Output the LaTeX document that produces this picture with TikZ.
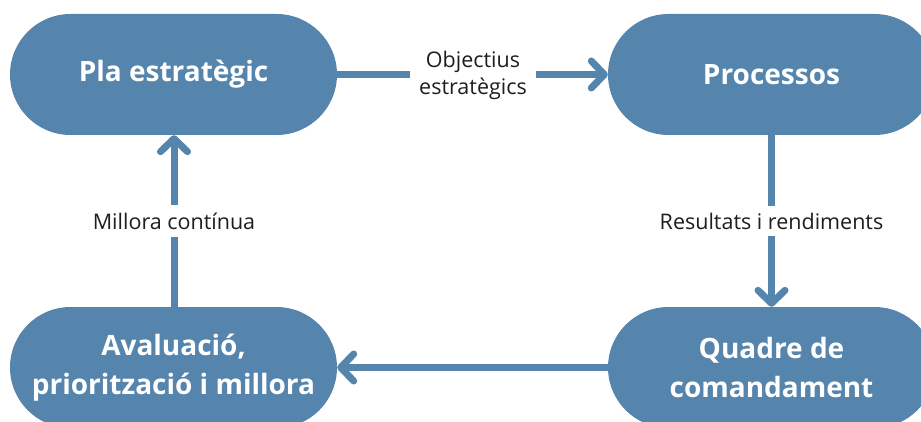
\documentclass[tikz,border=0pt]{standalone}
\usepackage{fontspec}
\setmainfont{Open Sans}
\usetikzlibrary{arrows.meta}
\definecolor{steel}{HTML}{5584AC}
\definecolor{ink}{HTML}{1E1E1E}
\tikzset{
  stage/.style={draw=none, fill=steel, text=white, minimum width=327pt,
    minimum height=121pt, rounded corners=60.5pt, align=center,
    font=\fontsize{28}{39}\selectfont\bfseries, inner sep=0pt},
  flowlabel/.style={text=ink, align=center, font=\fontsize{21.5}{27}\selectfont,
    inner xsep=9pt, inner ysep=6pt},
  link/.style={draw=steel, line width=7pt},
  flow/.style={link, -{Straight Barb[length=13pt,width=27pt,round]}},
}
\begin{document}
\begin{tikzpicture}[x=1pt,y=-1pt]
  \useasboundingbox (0,0) rectangle (921,422);
  \clip (0,0) rectangle (921,422);
  % the four stages of the cycle
  \node[stage] (pla)  at (173.5,74.5)  {Pla estratègic};
  \node[stage] (proc) at (771.5,74.5)  {Processos};
  \node[stage] (quad) at (771.5,367.5) {Quadre de\\comandament};
  \node[stage] (aval) at (173.5,367.5) {Avaluació,\\priorització i millora};
  % labels on the connectors
  \node[flowlabel] (obj) at (473,75.5) {Objectius\\estratègics};
  \node[flowlabel, inner xsep=6pt, inner ysep=7pt] (res) at (771.5,221) {Resultats i rendiments};
  \node[flowlabel, inner xsep=6pt, inner ysep=7pt] (mil) at (174,221) {Millora contínua};
  % connectors
  \draw[link] (pla.east) -- (obj.west |- pla.east);
  \draw[flow] (obj.east |- proc.west) -- (proc.west);
  \draw[link] (proc.south) -- (res.north);
  \draw[flow] (res.south) -- (quad.north);
  \draw[flow] (quad.west) -- (aval.east);
  \draw[link] (aval.north -| mil.south) -- (mil.south);
  \draw[flow] (mil.north) -- (pla.south -| mil.north);
\end{tikzpicture}
\end{document}
